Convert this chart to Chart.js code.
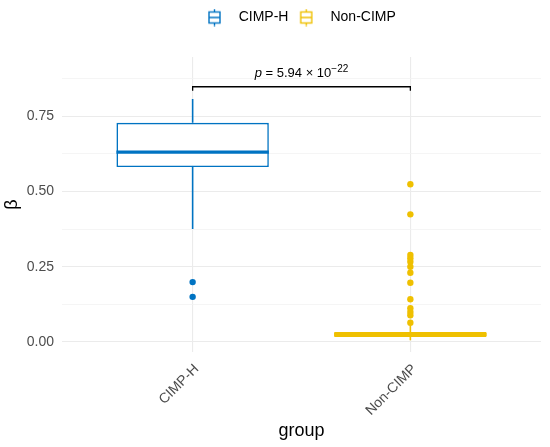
<!DOCTYPE html>
<html>
<head>
<meta charset="utf-8">
<script src="https://cdn.jsdelivr.net/npm/chart.js@4.4.0/dist/chart.umd.min.js"></script>
<style>
  html, body { margin: 0; padding: 0; background: #fff; }
  #wrap { width: 550px; height: 447px; position: relative; }
</style>
</head>
<body>
<div id="wrap"><canvas id="chart"></canvas></div>
<script>
// Box plot summary per group
const groups = ['CIMP-H', 'Non-CIMP'];
const groupColors = ['#0073C2', '#EFC000'];
const boxQ1 = [0.581, 0.017];
const boxMedian = [0.631, 0.025];
const boxQ3 = [0.728, 0.033];
const whiskerLow = [0.375, 0.006];
const whiskerHigh = [0.807, 0.056];
const outliersCimpH = [0.199, 0.150];
const outliersNonCimp = [0.524, 0.424, 0.289, 0.278, 0.267, 0.250, 0.230, 0.197, 0.142, 0.112, 0.100, 0.089, 0.064];

const yTicks = [0, 0.25, 0.5, 0.75];
const yMinorTicks = [0.125, 0.375, 0.625, 0.875];

// p-value bracket
const bracketY = 0.848;
const bracketTickY = 0.835;
const pLabelY = 0.882;
const pMantissa = '5.94';
const pExponent = '\u221222';

const FONT = "'Liberation Sans', Arial, sans-serif";
const boxWidth = 0.7;
const outliers = [outliersCimpH, outliersNonCimp];

Chart.defaults.font.family = FONT;

function legendIcon(color) {
    const c = document.createElement('canvas');
    c.width = 25;
    c.height = 18;
    const g = c.getContext('2d');
    g.strokeStyle = color;
    g.lineWidth = 1.4;
    g.fillStyle = '#fff';
    g.fillRect(2, 3.5, 11, 11);
    g.strokeRect(2, 3.5, 11, 11);
    g.beginPath();
    g.moveTo(7.5, 0.5); g.lineTo(7.5, 3.5);
    g.moveTo(7.5, 14.5); g.lineTo(7.5, 17.5);
    g.moveTo(2, 9); g.lineTo(13, 9);
    g.stroke();
    return c;
}

const datasets = [];
groups.forEach((g, i) => {
    datasets.push({
        type: 'bar',
        label: g,
        data: [{ x: i, y: [boxQ1[i], boxQ3[i]] }],
        backgroundColor: '#ffffff',
        borderColor: groupColors[i],
        borderWidth: 1.6,
        borderSkipped: false,
        grouped: false,
        barPercentage: boxWidth,
        categoryPercentage: 1,
        order: 2
    });
    datasets.push({
        type: 'line',
        label: g + ' whiskers',
        data: [
            { x: i, y: whiskerHigh[i] }, { x: i, y: boxQ3[i] }, { x: i, y: null },
            { x: i, y: boxQ1[i] }, { x: i, y: whiskerLow[i] }
        ],
        borderColor: groupColors[i],
        borderWidth: 1.6,
        pointRadius: 0,
        spanGaps: false,
        order: 3
    });
    datasets.push({
        type: 'line',
        label: g + ' median',
        data: [{ x: i - boxWidth / 2, y: boxMedian[i] }, { x: i + boxWidth / 2, y: boxMedian[i] }],
        borderColor: groupColors[i],
        borderWidth: 3.2,
        pointRadius: 0,
        order: 1
    });
    datasets.push({
        type: 'scatter',
        label: g + ' outliers',
        data: outliers[i].map(v => ({ x: i, y: v })),
        backgroundColor: groupColors[i],
        borderWidth: 0,
        pointRadius: 3.2,
        order: 0
    });
});

const bracketPlugin = {
    id: 'pValueBracket',
    afterDatasetsDraw(chart) {
        const { ctx, scales: { x, y } } = chart;
        const x0 = x.getPixelForValue(0);
        const x1 = x.getPixelForValue(1);
        const yb = y.getPixelForValue(bracketY);
        const yt = y.getPixelForValue(bracketTickY);
        ctx.save();
        ctx.strokeStyle = '#000';
        ctx.lineWidth = 1.3;
        ctx.beginPath();
        ctx.moveTo(x0, yt);
        ctx.lineTo(x0, yb);
        ctx.lineTo(x1, yb);
        ctx.lineTo(x1, yt);
        ctx.stroke();

        // "p = 5.94 × 10^-22"
        const parts = [
            { text: 'p', font: 'italic 13px ' + FONT, dy: 0 },
            { text: ' = ' + pMantissa + ' \u00d7 10', font: '13px ' + FONT, dy: 0 },
            { text: pExponent, font: '10px ' + FONT, dy: -5 }
        ];
        let total = 0;
        parts.forEach(p => { ctx.font = p.font; p.w = ctx.measureText(p.text).width; total += p.w; });
        let cx = (x0 + x1) / 2 - total / 2;
        const base = y.getPixelForValue(pLabelY);
        ctx.fillStyle = '#000';
        ctx.textBaseline = 'alphabetic';
        ctx.textAlign = 'left';
        parts.forEach(p => {
            ctx.font = p.font;
            ctx.fillText(p.text, cx, base + p.dy);
            cx += p.w;
        });
        ctx.restore();
    }
};

new Chart(document.getElementById('chart'), {
    type: 'bar',
    data: { datasets },
    options: {
        responsive: true,
        maintainAspectRatio: false,
        animation: false,
        layout: { padding: { top: 0, right: 9, bottom: 0, left: 0 } },
        scales: {
            x: {
                type: 'linear',
                min: -0.6,
                max: 1.6,
                offset: false,
                afterBuildTicks: s => { s.ticks = groups.map((g, i) => ({ value: i })); },
                afterFit: s => { s.height = 95; },
                ticks: {
                    callback: (v, i) => groups[i],
                    autoSkip: false,
                    minRotation: 45,
                    maxRotation: 45,
                    padding: 9,
                    labelOffset: 4,
                    color: '#4D4D4D',
                    font: { size: 14 }
                },
                grid: { color: '#EBEBEB', lineWidth: 1.1, drawTicks: false, offset: false },
                border: { display: false },
                title: { display: true, text: 'group', color: '#000', font: { size: 18 }, padding: { top: 0, bottom: 5 } }
            },
            xTop: {
                type: 'linear',
                position: 'top',
                display: true,
                ticks: { display: false },
                grid: { display: false },
                border: { display: false },
                afterFit: s => { s.height = 22.5; }
            },
            y: {
                type: 'linear',
                min: -0.0332,
                max: 0.9468,
                afterBuildTicks: s => {
                    s.ticks = yTicks.concat(yMinorTicks).sort((a, b) => a - b).map(v => ({ value: v }));
                },
                afterFit: s => { s.width = 62; },
                ticks: {
                    callback: v => yTicks.includes(v) ? v.toFixed(2) : '',
                    autoSkip: false,
                    padding: 8,
                    color: '#4D4D4D',
                    font: { size: 14 }
                },
                grid: {
                    color: c => yMinorTicks.includes(c.tick.value) ? '#F3F3F3' : '#EBEBEB',
                    lineWidth: c => yMinorTicks.includes(c.tick.value) ? 0.8 : 1.1,
                    drawTicks: false
                },
                border: { display: false },
                title: { display: true, text: 'β', color: '#000', font: { size: 18 }, padding: { top: 1, bottom: 0 } }
            }
        },
        plugins: {
            legend: {
                position: 'top',
                fullSize: false,
                onClick: () => {},
                labels: {
                    usePointStyle: true,
                    pointStyleWidth: 24.5,
                    padding: 10.5,
                    color: '#000',
                    font: { size: 14 },
                    generateLabels: () => groups.map((g, i) => ({
                        text: g,
                        pointStyle: legendIcon(groupColors[i]),
                        fillStyle: '#fff',
                        strokeStyle: groupColors[i],
                        lineWidth: 0,
                        hidden: false,
                        fontColor: '#000',
                        datasetIndex: i * 4
                    }))
                }
            },
            tooltip: { enabled: false }
        }
    },
    plugins: [bracketPlugin]
});
</script>
</body>
</html>
